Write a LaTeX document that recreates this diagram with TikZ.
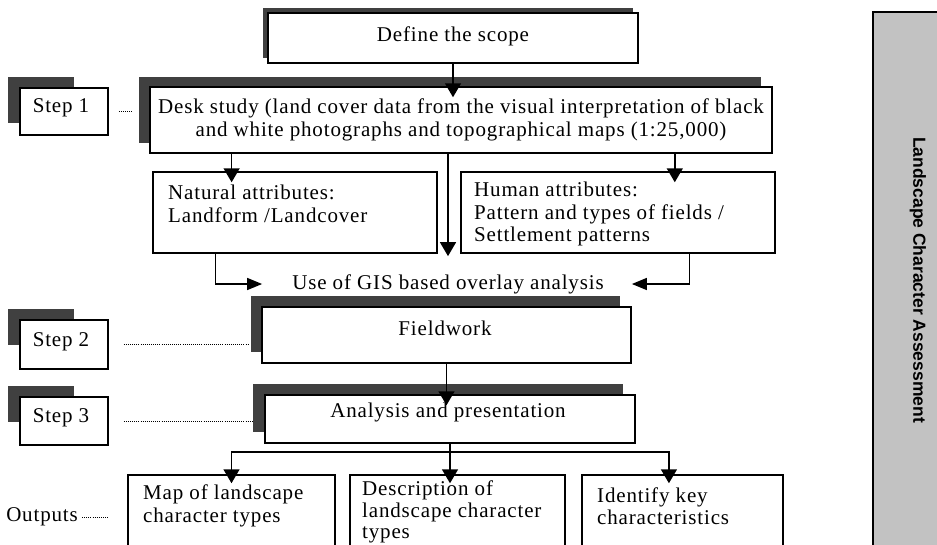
\documentclass[tikz,border=0pt]{standalone}
\usepackage{fontspec}
\setmainfont{Liberation Serif}[LetterSpace=4]
\newfontfamily\panelfont{Liberation Sans}
\usetikzlibrary{arrows.meta,calc}

\begin{document}
\begin{tikzpicture}[x=1pt,y=-1pt,
  box/.style={draw, line width=1.5pt, fill=white, inner sep=0pt},
  shd/.style={fill=black!75, draw=none},
  txt/.style={inner sep=0pt, font=\fontsize{21}{22.5}\selectfont},
  link/.style={line width=1.5pt, -{Triangle[width=16pt,length=14pt]}},
  slink/.style={line width=1.5pt, -{Triangle[width=12pt,length=15pt]}},
  dots/.style={line width=0.9pt, dash pattern=on 0.9pt off 1.2pt},
]
\useasboundingbox (0,0) rectangle (937,544);
\clip (0,0) rectangle (937,544);

% right panel
\node[fill=black!24, draw=none, minimum width=77pt, minimum height=548pt, inner sep=0pt] (panel) at (911.5,286) {};
\draw[line width=1.4pt] (panel.south west) -- (panel.north west) -- (panel.north east);
\node[rotate=-90, inner sep=0pt, font=\panelfont\bfseries\fontsize{17.5}{20}\selectfont] (ptext) at (918,280) {Landscape Character Assessment};

% shadows
\fill[shd] (263,8) rectangle (633,58);
\fill[shd] (139,77) rectangle (761,143);
\fill[shd] (251,296) rectangle (620,352);
\fill[shd] (253,384) rectangle (623,432);
\fill[shd] (8,77) rectangle (74,123);
\fill[shd] (8,309) rectangle (74,345);
\fill[shd] (8,386) rectangle (74,422);

% boxes
\node[box, minimum width=370pt, minimum height=50pt] (scope) at (453,38) {};
\node[box, minimum width=622pt, minimum height=66pt] (desk) at (461,120) {};
\node[box, minimum width=284pt, minimum height=81pt] (natural) at (295,212.5) {};
\node[box, minimum width=314pt, minimum height=81pt] (human) at (618,212.5) {};
\node[box, minimum width=369pt, minimum height=56pt] (field) at (446.5,335) {};
\node[box, minimum width=370pt, minimum height=48pt] (anal) at (450,419) {};
\node[box, minimum width=88pt, minimum height=47pt] (step1) at (64,111.5) {};
\node[box, minimum width=88pt, minimum height=49pt] (step2) at (64,344.5) {};
\node[box, minimum width=88pt, minimum height=48pt] (step3) at (64,421) {};
\node[box, minimum width=207pt, minimum height=100pt] (map) at (231.5,525) {};
\node[box, minimum width=215pt, minimum height=100pt] (desc) at (457.5,525) {};
\node[box, minimum width=201pt, minimum height=100pt] (ident) at (682.5,525) {};

% texts
\node[txt] (tscope) at (453,36) {Define the scope};
\node[txt, align=center] (tdesk) at (461,120) {Desk study (land cover data from the visual interpretation of black\\and white photographs and topographical maps (1:25,000)};
\node[txt, anchor=west, align=left] (tnat) at (168,204) {Natural attributes:\\Landform /Landcover};
\node[txt, anchor=west, align=left] (thum) at (474,214) {Human attributes:\\Pattern and types of fields /\\Settlement patterns};
\node[txt] (gis) at (448,284) {Use of GIS based overlay analysis};
\node[txt] (tfield) at (445,328) {Fieldwork};
\node[txt] (tanal) at (448,412) {Analysis and presentation};
\node[txt] (ts1) at (61,108) {Step 1};
\node[txt] (ts2) at (61,342) {Step 2};
\node[txt] (ts3) at (61,418) {Step 3};
\node[txt, anchor=west, align=left] (tmap) at (143,506) {Map of landscape\\character types};
\node[txt, anchor=west, align=left, font=\fontsize{21}{21.5}\selectfont] (tdesc) at (362,512) {Description of\\landscape character\\types};
\node[txt, anchor=west, align=left] (tident) at (597,506) {Identify key\\characteristics};
\node[txt, anchor=east] (outputs) at (78,517) {Outputs};

% connector points
\coordinate (n1) at ($(natural.north west)!0.278!(natural.north east)$);
\coordinate (h1) at ($(human.north west)!0.68!(human.north east)$);
\coordinate (n2) at ($(natural.south west)!0.222!(natural.south east)$);
\coordinate (h2) at ($(human.south west)!0.726!(human.south east)$);
\coordinate (i1) at ($(ident.north west)!0.433!(ident.north east)$);
\coordinate (split) at ($(anal.south)+(0,8)$);

% connectors
\draw[link, shorten >=-11pt] (scope.south) -- (scope.south |- desk.north);
\draw[link, shorten >=-11pt] (n1 |- desk.south) -- (n1);
\draw[link, shorten >=-11pt] (h1 |- desk.south) -- (h1);
\draw[link, shorten >=18pt] (gis.north |- desk.south) -- (gis.north);
\draw[slink, shorten >=30pt] (n2) |- (gis.west);
\draw[slink, shorten >=28pt] (h2) |- (gis.east);
\draw[link, shorten >=-11pt] (field.south) -- (field.south |- anal.north);
\draw[link, shorten >=-9pt] (anal.south) -- (anal.south |- desc.north);
\draw[link, shorten >=-9pt] (split) -| (map.north);
\draw[link, shorten >=-9pt] (split) -| (i1);

% dotted leaders
\draw[dots, shorten <=10pt, shorten >=17pt] (step1.east) -- (step1.east -| desk.west);
\draw[dots, shorten <=15pt, shorten >=12pt] (step2.east) -- (step2.east -| field.west);
\draw[dots, shorten <=15pt, shorten >=12pt] (step3.east) -- (step3.east -| anal.west);
\draw[dots, shorten <=4pt, shorten >=18pt] (outputs.east) -- (outputs.east -| map.west);
\end{tikzpicture}
\end{document}
